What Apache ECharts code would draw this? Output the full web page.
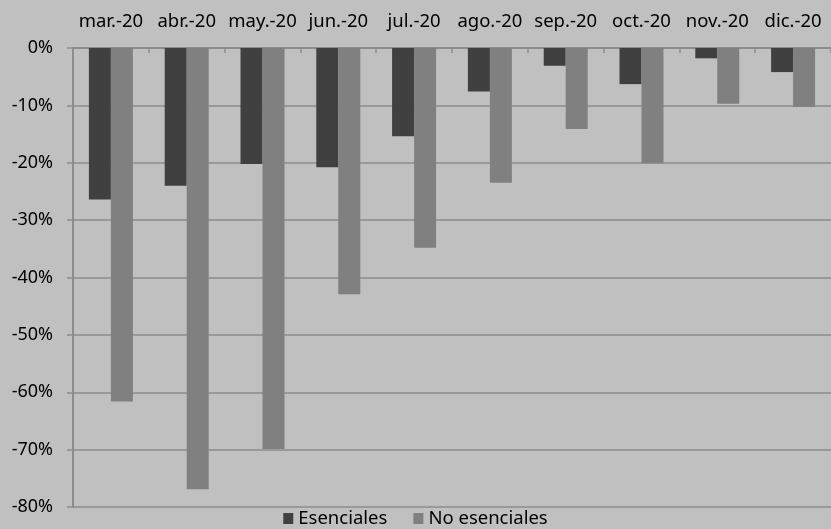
<!DOCTYPE html>
<html>
<head>
<meta charset="utf-8">
<script src="https://cdn.jsdelivr.net/npm/echarts@6/dist/echarts.min.js"></script>
<style>
  html, body { margin: 0; padding: 0; background: #c0c0c0; }
  #chart { width: 831px; height: 529px; }
</style>
</head>
<body>
<div id="chart"></div>
<script>
// datos (variación %)
const months = ['mar.-20', 'abr.-20', 'may.-20', 'jun.-20', 'jul.-20', 'ago.-20', 'sep.-20', 'oct.-20', 'nov.-20', 'dic.-20'];
const esenciales = [-26.4, -24.0, -20.2, -20.8, -15.4, -7.6, -3.1, -6.3, -1.8, -4.2];
const noEsenciales = [-61.6, -76.9, -69.9, -42.9, -34.8, -23.5, -14.1, -20.1, -9.7, -10.3];
const seriesNames = ['Esenciales', 'No esenciales'];

const axisGrey = '#8c8c8c';
const font = 'Noto Sans';

const chart = echarts.init(document.getElementById('chart'));

const option = {
  backgroundColor: '#c0c0c0',
  animation: false,
  textStyle: { fontFamily: font },
  grid: { left: 73, top: 48, right: -5, bottom: 22, containLabel: false },
  legend: {
    bottom: -4,
    left: 'center',
    icon: 'rect',
    itemWidth: 10,
    itemHeight: 11,
    itemGap: 26,
    textStyle: { fontSize: 18.5, color: '#000', fontFamily: font },
    data: seriesNames
  },
  xAxis: {
    type: 'category',
    position: 'top',
    data: months,
    axisLine: { show: true, lineStyle: { color: axisGrey, width: 2 } },
    axisTick: { show: true, inside: true, length: 5, lineStyle: { color: axisGrey, width: 1.5 } },
    axisLabel: { color: '#000', fontSize: 18.5, margin: 17, interval: 0 },
    splitLine: { show: false }
  },
  yAxis: {
    type: 'value',
    min: -80,
    max: 0,
    interval: 10,
    axisLine: { show: true, lineStyle: { color: axisGrey, width: 2 } },
    axisTick: { show: true, length: 6, lineStyle: { color: axisGrey, width: 1.5 } },
    axisLabel: { color: '#000', fontSize: 18, margin: 20, formatter: '{value}%' },
    splitLine: { show: true, lineStyle: { color: axisGrey, width: 1.5 } }
  },
  series: [
    {
      name: seriesNames[0],
      type: 'bar',
      data: esenciales,
      barWidth: 22,
      barGap: '0%',
      itemStyle: { color: '#404040' }
    },
    {
      name: seriesNames[1],
      type: 'bar',
      data: noEsenciales,
      barWidth: 22,
      itemStyle: { color: '#808080' }
    }
  ]
};

chart.setOption(option);
</script>
</body>
</html>
